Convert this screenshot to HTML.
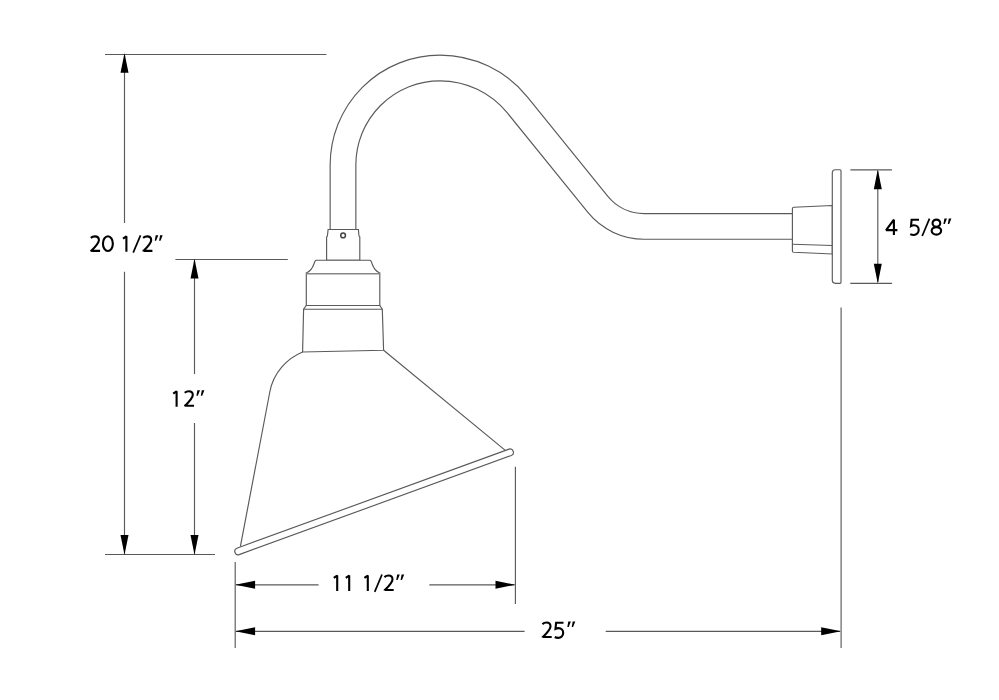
<!DOCTYPE html>
<html><head><meta charset="utf-8"><style>
html,body{margin:0;padding:0;background:#fff;width:999px;height:700px;overflow:hidden}
svg{display:block;will-change:transform}
</style></head><body>
<svg width="999" height="700" viewBox="0 0 999 700">
<rect width="999" height="700" fill="#fff"/>
<g stroke="#5a5a5a" stroke-width="1.15" fill="none"><line x1="105" y1="54.5" x2="326.5" y2="54.5"/><line x1="124.5" y1="55" x2="124.5" y2="223"/><line x1="124.5" y1="271.7" x2="124.5" y2="554"/><line x1="175.4" y1="259.5" x2="287.8" y2="259.5"/><line x1="194.5" y1="260" x2="194.5" y2="374"/><line x1="194.5" y1="423" x2="194.5" y2="554"/><line x1="105" y1="554.5" x2="215" y2="554.5"/><line x1="850.4" y1="169.8" x2="891.9" y2="169.8"/><line x1="850.3" y1="283.3" x2="892.1" y2="283.3"/><line x1="877.8" y1="171" x2="877.8" y2="282"/><line x1="235.2" y1="562" x2="235.2" y2="648"/><line x1="515.4" y1="466.8" x2="515.4" y2="604.1"/><line x1="841.1" y1="307.4" x2="841.1" y2="648"/><line x1="236" y1="584.8" x2="318.6" y2="584.8"/><line x1="429.3" y1="584.8" x2="514.5" y2="584.8"/><line x1="236" y1="631.3" x2="524.6" y2="631.3"/><line x1="605.7" y1="631.3" x2="840" y2="631.3"/></g>
<path d="M124.5 53.0 L120.5 72.8 L128.5 72.8Z" fill="#000"/><path d="M124.5 554.8 L120.5 535.0 L128.5 535.0Z" fill="#000"/><path d="M194.5 258.8 L190.5 278.6 L198.5 278.6Z" fill="#000"/><path d="M194.5 554.8 L190.5 535.0 L198.5 535.0Z" fill="#000"/><path d="M877.8 169.5 L873.8 189.3 L881.8 189.3Z" fill="#000"/><path d="M877.8 283.6 L873.8 263.8 L881.8 263.8Z" fill="#000"/><path d="M235.3 584.8 L255.10000000000002 580.8 L255.10000000000002 588.8Z" fill="#000"/><path d="M515.3 584.8 L495.49999999999994 580.8 L495.49999999999994 588.8Z" fill="#000"/><path d="M235.3 631.3 L255.10000000000002 627.3 L255.10000000000002 635.3Z" fill="#000"/><path d="M841.0 631.3 L821.2 627.3 L821.2 635.3Z" fill="#000"/>
<path d="M343.00 232 L343.00 165.00 A97.0 97.0 0 0 1 440 68 A99.50 99.50 0 0 1 517.33 104.89 L597.68 204.15 A60.0 60.0 0 0 0 644.32 226.40 L793 226.40" stroke="#5a5a5a" stroke-width="26.849999999999998" fill="none"/><path d="M343.00 232 L343.00 165.00 A97.0 97.0 0 0 1 440 68 A99.50 99.50 0 0 1 517.33 104.89 L597.68 204.15 A60.0 60.0 0 0 0 644.32 226.40 L793 226.40" stroke="#fff" stroke-width="24.55" fill="none"/><path d="M328.1 229.5 L358.4 229.5 L358.9 235.2 Q359.0 236.8 359.8 236.9 L359.8 260.2 L326.6 260.2 L326.6 236.9 Q327.4 236.8 327.5 235.2 Z" fill="#fff" stroke="#5a5a5a" stroke-width="1.15"/><circle cx="343.1" cy="235.4" r="2.35" fill="none" stroke="#444" stroke-width="1.5"/><path d="M316.4 260.2 L369.7 260.2 Q371.3 260.4 372 263.5 Q374.5 271 379.8 273 L379.8 305.5 L306.3 305.5 L306.3 273 Q311.6 271 314.1 263.5 Q314.8 260.4 316.4 260.2 Z" fill="#fff" stroke="#5a5a5a" stroke-width="1.15"/><line x1="306.3" y1="273.8" x2="379.8" y2="273.8" stroke="#888" stroke-width="1.6"/><path d="M306.3 305.5 L379.8 305.5 L382.3 309.2 L383.6 350.2 L302.6 352 L303.6 309.2 Z" fill="#fff" stroke="#5a5a5a" stroke-width="1.15"/><line x1="303.6" y1="309.2" x2="382.3" y2="309.2" stroke="#5a5a5a" stroke-width="1.15"/><path d="M302.6 352 C288 358 273 372 269.6 393 L240.4 546.4 M383.6 350.2 L505.6 450.6" fill="none" stroke="#5a5a5a" stroke-width="1.15"/><path d="M239.16 554.59 L511.36 455.49 A3.4 3.4 0 0 0 509.04 449.11 L236.84 548.21 A3.4 3.4 0 0 0 239.16 554.59 Z" fill="#fff" stroke="#5a5a5a" stroke-width="1.15"/><path d="M832.3 205.5 L793.9 207.2 Q792.4 207.3 792.4 208.7 L792.4 250.9 Q792.4 252.1 793.7 252.2 L832.3 254 Z" fill="#fff" stroke="#5a5a5a" stroke-width="1.15"/><line x1="792.4" y1="244.3" x2="832.3" y2="245.5" stroke="#5a5a5a" stroke-width="1.15"/><path d="M835.3 169.7 L840 169.7 Q841 169.7 841 170.7 L841 282.3 Q841 283.3 840 283.3 L835.3 283.3 Q832.3 283.3 832.3 280.3 L832.3 172.7 Q832.3 169.7 835.3 169.7 Z" fill="#fff" stroke="#5a5a5a" stroke-width="1.15"/>
<g fill="none" stroke="#000" stroke-width="2.1"><g transform="translate(89.9 251.8)"><path d="M0.9 -13.9 C2.2 -15.0 3.5 -15.45 5.0 -15.45 C7.5 -15.45 9.0 -13.9 9.0 -11.6 C9.0 -8.9 7.0 -6.6 1.4 -0.95 L10.2 -0.95" stroke-linejoin="bevel"/><path d="M0.3 0 L0.3 -1.9 L2.3 -1.9Z" fill="#000" stroke="none"/></g><g transform="translate(102.0 251.8)"><ellipse cx="5.9" cy="-8.15" rx="4.95" ry="7.35"/></g><g transform="translate(122.30000000000001 251.8)"><path d="M0.7 -13.1 L4.1 -15.45 L4.1 0" stroke-linejoin="bevel"/></g><g transform="translate(133.2 251.8)"><path d="M7.3 -16.5 L0 0.9" stroke-width="1.7"/></g><g transform="translate(142.2 251.8)"><path d="M0.9 -13.9 C2.2 -15.0 3.5 -15.45 5.0 -15.45 C7.5 -15.45 9.0 -13.9 9.0 -11.6 C9.0 -8.9 7.0 -6.6 1.4 -0.95 L10.2 -0.95" stroke-linejoin="bevel"/><path d="M0.3 0 L0.3 -1.9 L2.3 -1.9Z" fill="#000" stroke="none"/></g><g transform="translate(157.0 251.8)"><path d="M-1.3 -16.5 L1.3 -16.5 L-0.9 -11.0 L-2.3 -11.0Z M3.1 -16.5 L5.7 -16.5 L3.5 -11.0 L2.1 -11.0Z" fill="#000" stroke="none"/></g><g transform="translate(172.5 406.7)"><path d="M0.7 -13.1 L4.1 -15.45 L4.1 0" stroke-linejoin="bevel"/></g><g transform="translate(183.8 406.7)"><path d="M0.9 -13.9 C2.2 -15.0 3.5 -15.45 5.0 -15.45 C7.5 -15.45 9.0 -13.9 9.0 -11.6 C9.0 -8.9 7.0 -6.6 1.4 -0.95 L10.2 -0.95" stroke-linejoin="bevel"/><path d="M0.3 0 L0.3 -1.9 L2.3 -1.9Z" fill="#000" stroke="none"/></g><g transform="translate(198.7 406.7)"><path d="M-1.3 -16.5 L1.3 -16.5 L-0.9 -11.0 L-2.3 -11.0Z M3.1 -16.5 L5.7 -16.5 L3.5 -11.0 L2.1 -11.0Z" fill="#000" stroke="none"/></g><g transform="translate(333.09999999999997 591.0)"><path d="M0.7 -13.1 L4.1 -15.45 L4.1 0" stroke-linejoin="bevel"/></g><g transform="translate(345.09999999999997 591.0)"><path d="M0.7 -13.1 L4.1 -15.45 L4.1 0" stroke-linejoin="bevel"/></g><g transform="translate(363.7 591.0)"><path d="M0.7 -13.1 L4.1 -15.45 L4.1 0" stroke-linejoin="bevel"/></g><g transform="translate(374.7 591.0)"><path d="M7.3 -16.5 L0 0.9" stroke-width="1.7"/></g><g transform="translate(383.5 591.0)"><path d="M0.9 -13.9 C2.2 -15.0 3.5 -15.45 5.0 -15.45 C7.5 -15.45 9.0 -13.9 9.0 -11.6 C9.0 -8.9 7.0 -6.6 1.4 -0.95 L10.2 -0.95" stroke-linejoin="bevel"/><path d="M0.3 0 L0.3 -1.9 L2.3 -1.9Z" fill="#000" stroke="none"/></g><g transform="translate(398.5 591.0)"><path d="M-1.3 -16.5 L1.3 -16.5 L-0.9 -11.0 L-2.3 -11.0Z M3.1 -16.5 L5.7 -16.5 L3.5 -11.0 L2.1 -11.0Z" fill="#000" stroke="none"/></g><g transform="translate(541.5 638.0)"><path d="M0.9 -13.9 C2.2 -15.0 3.5 -15.45 5.0 -15.45 C7.5 -15.45 9.0 -13.9 9.0 -11.6 C9.0 -8.9 7.0 -6.6 1.4 -0.95 L10.2 -0.95" stroke-linejoin="bevel"/><path d="M0.3 0 L0.3 -1.9 L2.3 -1.9Z" fill="#000" stroke="none"/></g><g transform="translate(554.3 638.0)"><path d="M9.2 -15.3 L1.8 -15.3 L1.2 -9.1 C2.1 -9.6 3.1 -9.85 4.2 -9.85 C7.0 -9.85 8.9 -7.9 8.9 -5.1 C8.9 -2.1 6.7 -0.15 4.0 -0.15 C2.7 -0.15 1.4 -0.45 0.5 -1.0"/></g><g transform="translate(569.6 638.0)"><path d="M-1.3 -16.5 L1.3 -16.5 L-0.9 -11.0 L-2.3 -11.0Z M3.1 -16.5 L5.7 -16.5 L3.5 -11.0 L2.1 -11.0Z" fill="#000" stroke="none"/></g><g transform="translate(885.2 235.1)"><path d="M8.7 0 L8.7 -15.45 L0.9 -5.0 L12.2 -5.0" stroke-linejoin="bevel"/></g><g transform="translate(909.8 235.1)"><path d="M9.2 -15.3 L1.8 -15.3 L1.2 -9.1 C2.1 -9.6 3.1 -9.85 4.2 -9.85 C7.0 -9.85 8.9 -7.9 8.9 -5.1 C8.9 -2.1 6.7 -0.15 4.0 -0.15 C2.7 -0.15 1.4 -0.45 0.5 -1.0"/></g><g transform="translate(922.2 235.1)"><path d="M7.3 -16.5 L0 0.9" stroke-width="1.7"/></g><g transform="translate(930.8 235.1)"><ellipse cx="5.6" cy="-11.95" rx="3.85" ry="3.55"/><ellipse cx="5.6" cy="-4.25" rx="4.75" ry="3.75"/></g><g transform="translate(945.7 235.1)"><path d="M-1.3 -16.5 L1.3 -16.5 L-0.9 -11.0 L-2.3 -11.0Z M3.1 -16.5 L5.7 -16.5 L3.5 -11.0 L2.1 -11.0Z" fill="#000" stroke="none"/></g></g>
</svg>
</body></html>
